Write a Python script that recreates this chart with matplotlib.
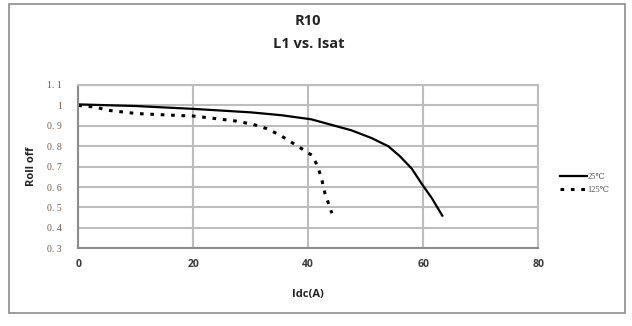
import matplotlib
matplotlib.use("Agg")
import matplotlib.pyplot as plt
from matplotlib.patches import Rectangle

# Data
idc_25 = [0, 10, 20, 30, 35.3, 40.5, 44, 47.5, 51, 53.9, 55.9, 58, 59.7, 61.5, 63.3]
roll_25 = [1.005, 0.997, 0.983, 0.966, 0.952, 0.932, 0.905, 0.878, 0.84, 0.8, 0.752, 0.69, 0.617, 0.545, 0.46]
idc_125 = [0, 2.9, 5.2, 10.2, 17.1, 20, 24.9, 27.5, 30.4, 32.8, 35.1, 38.8, 40.6, 41.6, 42.3, 42.9, 43.5, 44.1]
roll_125 = [1.0, 0.992, 0.976, 0.96, 0.951, 0.948, 0.932, 0.923, 0.907, 0.886, 0.854, 0.789, 0.756, 0.705, 0.642, 0.569, 0.52, 0.472]
labels = ["25\u2103", "125\u2103"]
xticks = [0, 20, 40, 60, 80]
yticks = [0.3, 0.4, 0.5, 0.6, 0.7, 0.8, 0.9, 1.0, 1.1]
ytick_labels = ["0. 3", "0. 4", "0. 5", "0. 6", "0. 7", "0. 8", "0. 9", "1", "1. 1"]
title1 = "R10"
title2 = "L1 vs. Isat"
xlabel = "Idc(A)"
ylabel = "Roll off"

W, H = 632, 326
fig = plt.figure(figsize=(W / 100, H / 100), dpi=100)
fig.patch.set_facecolor("white")

# outer frame
fig.patches.append(Rectangle((9 / W, 1 - 313 / H), 616 / W, 309 / H, transform=fig.transFigure,
                             fill=False, edgecolor="#8c8c8c", linewidth=1.2))

ax = fig.add_axes([78.3 / W, 1 - 248.3 / H, 460 / W, 163.3 / H])
ax.set_xlim(0, 80)
ax.set_ylim(0.3, 1.1)
ax.set_xticks(xticks)
ax.set_yticks(yticks)
ax.set_yticklabels(ytick_labels, family="Liberation Serif", fontsize=7, color="#6b5a4a")
ax.set_xticklabels([str(v) for v in xticks], family="Open Sans", fontweight="bold", fontsize=7.5, color="#3a3a3a")
ax.tick_params(length=0, pad=8)
ax.tick_params(axis="y", pad=12)
ax.grid(True, color="#bdbdbd", linewidth=1.5)
ax.set_axisbelow(True)
for s in ax.spines.values():
    s.set_color("#bdbdbd")
    s.set_linewidth(1.5)
ax.spines["left"].set_color("#8c8c8c")
ax.spines["bottom"].set_color("#8c8c8c")

l1, = ax.plot(idc_25, roll_25, color="black", linewidth=1.6, label=labels[0],
              solid_joinstyle="round")
l2, = ax.plot(idc_125, roll_125, color="black", linewidth=2.2, linestyle=(0, (1.2, 2.2)), label=labels[1])

cx = 0.5 * (78.3 + 538.3) / W
fig.text(cx, 1 - 21 / H, title1, ha="center", va="center",
         family="Open Sans", fontweight="bold", fontsize=10.5, color="#222222")
fig.text(cx, 1 - 44 / H, title2, ha="center", va="center",
         family="Open Sans", fontweight="bold", fontsize=10.5, color="#222222")
fig.text(cx, 1 - 295 / H, xlabel, ha="center", va="center",
         family="Open Sans", fontweight="bold", fontsize=8, color="#222222")
fig.text(31 / W, 1 - 166 / H, ylabel, ha="center", va="center", rotation=90,
         family="Open Sans", fontweight="bold", fontsize=8, color="#222222")

leg = fig.legend(handles=[l1, l2], loc="center left", bbox_to_anchor=(556 / W, 1 - 183.5 / H),
                 frameon=False, prop={"family": ["Liberation Serif", "DejaVu Serif"], "size": 6},
                 handlelength=3.2, handletextpad=0.1, labelspacing=0.6, borderpad=0)
for t in leg.get_texts():
    t.set_color("#555555")

fig.savefig("out.png", dpi=100, facecolor="white")
